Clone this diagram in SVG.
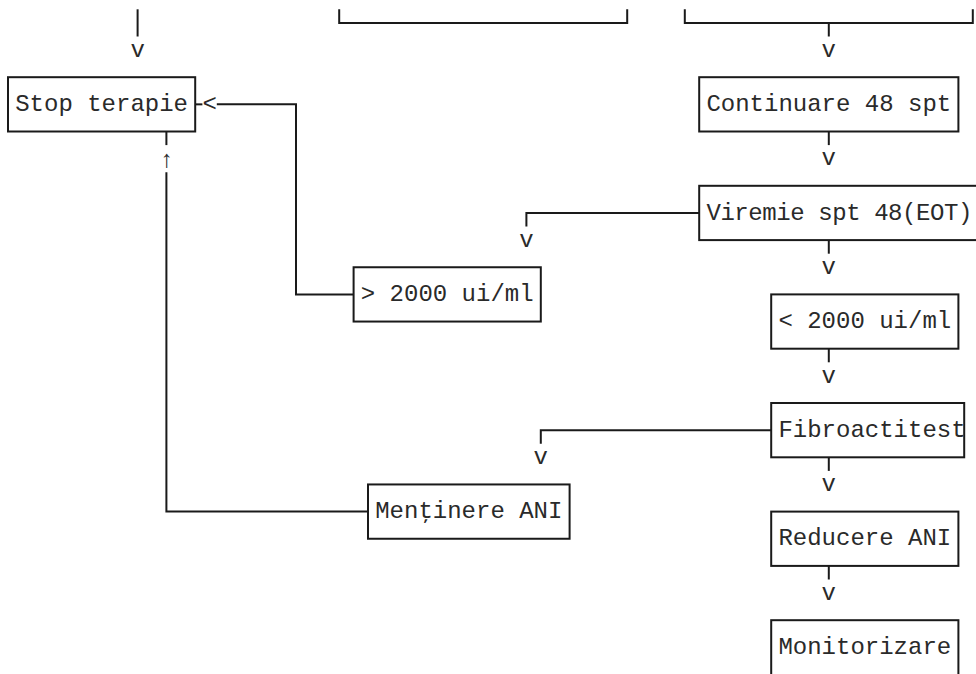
<svg xmlns="http://www.w3.org/2000/svg" width="976" height="674" viewBox="0 0 976 674">
<style>
  .box { fill: #ffffff; stroke: #1a1a1a; stroke-width: 2; }
  .ln { fill: none; stroke: #1a1a1a; stroke-width: 2; }
  .t { font-family: "Liberation Mono", "DejaVu Sans Mono", monospace; font-size: 24px; fill: #2a2a2a; }
  .a { font-family: "Liberation Mono", "DejaVu Sans Mono", monospace; font-size: 24px; fill: #2a2a2a; text-anchor: middle; }
</style>
<rect width="976" height="674" fill="#ffffff"/>

<g id="connectors">
  <path class="ln" d="M137.6,9.3 V36.5"/>
  <text class="a" x="137.6" y="56.75">v</text>
  <path class="ln" d="M339.2,9.3 V22.9 H627.2 V9.3"/>
  <path class="ln" d="M684.8,9.3 V22.9 H972.8 V9.3"/>
  <path class="ln" d="M828.8,22.9 V36.5"/>
  <text class="a" x="828.8" y="56.75">v</text>

  <path class="ln" d="M828.8,131.5 V145.1"/>
  <text class="a" x="828.8" y="165.35">v</text>

  <path class="ln" d="M699.2,212.95 H526.4 V226.5"/>
  <text class="a" x="526.4" y="246.8">v</text>
  <path class="ln" d="M828.8,240.1 V253.7"/>
  <text class="a" x="828.8" y="273.95">v</text>

  <path class="ln" d="M828.8,348.7 V362.3"/>
  <text class="a" x="828.8" y="382.55">v</text>

  <path class="ln" d="M771.2,430.15 H540.8 V443.7"/>
  <text class="a" x="540.8" y="464">v</text>
  <path class="ln" d="M828.8,457.3 V470.9"/>
  <text class="a" x="828.8" y="491.15">v</text>

  <path class="ln" d="M828.8,565.9 V579.5"/>
  <text class="a" x="828.8" y="599.75">v</text>

  <path class="ln" d="M195.2,104.35 H202.4"/>
  <text class="a" x="209.6" y="111.05">&lt;</text>
  <path class="ln" d="M216.8,104.35 H296 V294.4 H353.6"/>

  <path class="ln" d="M166.4,131.5 V145.1"/>
  <text class="a" x="166.4" y="167">↑</text>
  <path class="ln" d="M166.4,172.2 V511.6 H368"/>
</g>

<g id="stop-terapie">
  <rect class="box" x="8" y="77.2" width="187.2" height="54.3"/>
  <text class="t" x="15.2" y="111.05">Stop terapie</text>
</g>
<g id="continuare">
  <rect class="box" x="699.2" y="77.2" width="259.2" height="54.3"/>
  <text class="t" x="706.4" y="111.05">Continuare 48 spt</text>
</g>
<g id="viremie">
  <rect class="box" x="699.2" y="185.8" width="288" height="54.3"/>
  <text class="t" x="706.4" y="219.65" textLength="266" lengthAdjust="spacing">Viremie spt 48(EOT)</text>
</g>
<g id="peste-2000">
  <rect class="box" x="353.6" y="267.25" width="187.2" height="54.3"/>
  <text class="t" x="360.8" y="301.1">&gt; 2000 ui/ml</text>
</g>
<g id="sub-2000">
  <rect class="box" x="771.2" y="294.4" width="187.2" height="54.3"/>
  <text class="t" x="778.4" y="328.25">&lt; 2000 ui/ml</text>
</g>
<g id="fibroactitest">
  <rect class="box" x="771.2" y="403" width="193" height="54.3"/>
  <text class="t" x="778.4" y="436.85">Fibroactitest</text>
</g>
<g id="mentinere-ani">
  <rect class="box" x="368" y="484.45" width="201.6" height="54.3"/>
  <text class="t" x="375.2" y="518.3">Menţinere ANI</text>
</g>
<g id="reducere-ani">
  <rect class="box" x="771.2" y="511.6" width="187.2" height="54.3"/>
  <text class="t" x="778.4" y="545.45">Reducere ANI</text>
</g>
<g id="monitorizare">
  <rect class="box" x="771.2" y="620.2" width="187.2" height="80"/>
  <text class="t" x="778.4" y="654.05">Monitorizare</text>
</g>
</svg>
